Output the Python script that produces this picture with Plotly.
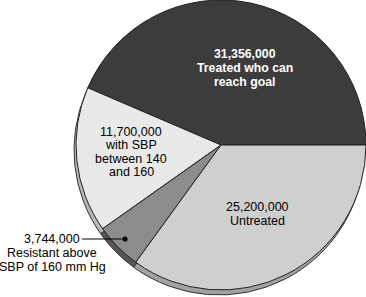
import plotly.graph_objects as go

labels = ["Treated who can reach goal", "With SBP between 140 and 160",
          "Resistant above SBP of 160 mm Hg", "Untreated"]
values = [31356000, 11700000, 3744000, 25200000]
top_colors = ["#3c3c3c", "#e9e9e9", "#8c8c8c", "#cfcfcf"]
rim_colors = ["#2a2a2a", "#b8b8b8", "#555555", "#a2a2a2"]

label_lines = [
    ["31,356,000", "Treated who can", "reach goal"],
    ["11,700,000", "with SBP", "between 140", "and 160"],
    ["3,744,000", "Resistant above", "SBP of 160 mm Hg"],
    ["25,200,000", "Untreated"],
]

W, H = 366, 297
cx, cy, r = 221, 145, 145  # px, from top-left
dx, dy = -2, 5  # rim offset

# first slice ends at 3 o'clock going counterclockwise
rot = 90 - 360 * values[0] / sum(values)

def dom(cx, cy):
    return dict(x=[(cx - r) / W, min(1, (cx + r) / W)],
                y=[max(0, (H - cy - r) / H), min(1, (H - cy + r) / H)])

fig = go.Figure()
fig.add_trace(go.Pie(labels=labels, values=values, sort=False, direction="counterclockwise",
                     rotation=rot, marker=dict(colors=rim_colors, line=dict(color="#333333", width=1)),
                     textinfo="none", hoverinfo="skip", showlegend=False,
                     domain=dom(cx + dx, cy + dy)))
fig.add_trace(go.Pie(labels=labels, values=values, sort=False, direction="counterclockwise",
                     rotation=rot, marker=dict(colors=top_colors, line=dict(color="#222222", width=1)),
                     textinfo="none", showlegend=False,
                     domain=dom(cx, cy)))

font = "Liberation Sans, Arial, sans-serif"

def block(lines, x, y0, step, color="black", bold=False, size=12.5):
    for i, t in enumerate(lines):
        fig.add_annotation(x=x / W, y=1 - (y0 + i * step) / H, xref="paper", yref="paper",
                           text=t, showarrow=False, xanchor="center", yanchor="middle",
                           font=dict(family=font, size=size, color=color,
                                     weight="bold" if bold else "normal"))

block(label_lines[0], 245, 54, 14, color="white", bold=True, size=12.3)
block(label_lines[1], 131, 132, 13.4)
block(label_lines[3], 257, 207, 13.6)
block(label_lines[2], 52, 239, 13.8)

fig.add_shape(type="line", xref="paper", yref="paper", x0=82 / W, x1=125 / W,
              y0=1 - 239 / H, y1=1 - 239 / H, line=dict(color="black", width=1))
fig.add_shape(type="circle", xref="paper", yref="paper", x0=122.5 / W, x1=127.5 / W,
              y0=1 - 241.5 / H, y1=1 - 236.5 / H, fillcolor="black", line=dict(width=0))

fig.update_layout(width=W, height=H, margin=dict(l=0, r=0, t=0, b=0),
                  paper_bgcolor="white", plot_bgcolor="white")
fig.write_html("out.html")
